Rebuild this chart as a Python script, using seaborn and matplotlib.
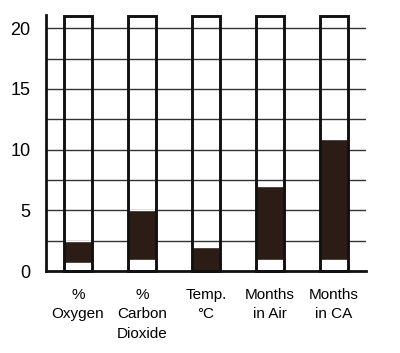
import matplotlib
matplotlib.use("Agg")
import matplotlib.pyplot as plt
import numpy as np
import pandas as pd
import seaborn as sns

categories = ["%\nOxygen", "%\nCarbon\nDioxide", "Temp.\n°C", "Months\nin Air", "Months\nin CA"]
range_low = [0.7, 0.9, 0.0, 0.9, 0.9]
range_high = [2.5, 5.0, 2.0, 7.0, 10.9]
scale_top = [21, 21, 21, 21, 21]
y_ticks = [0, 5, 10, 15, 20]

sns.set_style("white")
plt.rcParams["font.family"] = ["Liberation Sans", "DejaVu Sans"]

df = pd.DataFrame({"category": categories, "low": range_low,
                   "high": range_high, "top": scale_top})
df["span"] = df["high"] - df["low"]

fig = plt.figure(figsize=(4.0, 3.53), dpi=100)
ax = fig.add_axes([0.115, 0.232, 0.8, 0.726])

# gridlines every 2.5
for y in np.arange(2.5, 21, 2.5):
    ax.axhline(y, color="#333333", lw=1.0, zorder=1)

# filled range
ax.bar(np.arange(len(df)), df["span"], bottom=df["low"], width=0.45,
       color="#2b1d15", zorder=2)

# outline bars
sns.barplot(data=df, x="category", y="top", ax=ax, width=0.45,
            fill=False, edgecolor="#111111", linewidth=2.1, zorder=3)
for p in ax.patches:
    p.set_clip_on(False)

ax.set_xlim(-0.5, 4.5)
ax.set_ylim(0, 21.1)
ax.set_yticks(y_ticks)
ax.set_yticklabels([str(v) for v in y_ticks], fontsize=13, color="black")
ax.tick_params(axis="y", length=0, pad=11)
ax.set_xticks(range(len(categories)))
ax.set_xticklabels(categories, fontsize=11, linespacing=1.5, va="top", color="black")
ax.tick_params(axis="x", which="major", length=0, pad=12)
ax.set_xticks(np.arange(0.5, 5, 1), minor=True)
ax.tick_params(axis="x", which="minor", direction="inout", length=7,
               width=1.8, color="#111111")
ax.set_xlabel("")
ax.set_ylabel("")

for s in ["top", "right"]:
    ax.spines[s].set_visible(False)
for s in ["left", "bottom"]:
    ax.spines[s].set_linewidth(2.0)
    ax.spines[s].set_color("#111111")

fig.savefig("out.png", dpi=100)
